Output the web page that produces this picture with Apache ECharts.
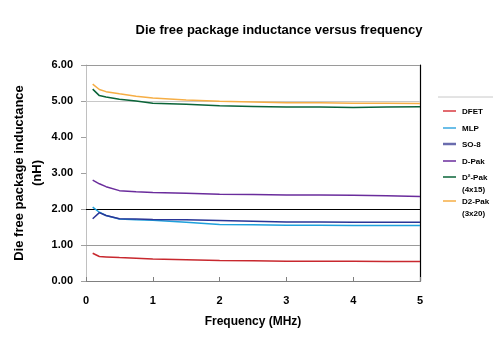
<!DOCTYPE html>
<html><head><meta charset="utf-8">
<script src="https://cdn.jsdelivr.net/npm/echarts@6/dist/echarts.min.js"></script>
<style>html,body{margin:0;padding:0;background:#fff}#c{width:500px;height:351px}</style>
</head><body><div id="c"></div>
<script>
var freq = [0.1, 0.2, 0.3, 0.5, 0.75, 1, 1.5, 2, 2.5, 3, 3.5, 4, 4.5, 5];
var dfet  = [0.77, 0.68, 0.67, 0.65, 0.63, 0.61, 0.59, 0.57, 0.56, 0.55, 0.55, 0.55, 0.54, 0.54];
var mlp   = [2.05, 1.91, 1.82, 1.72, 1.70, 1.69, 1.63, 1.57, 1.56, 1.55, 1.55, 1.54, 1.54, 1.54];
var so8   = [1.73, 1.90, 1.82, 1.73, 1.72, 1.71, 1.70, 1.68, 1.66, 1.64, 1.64, 1.63, 1.63, 1.63];
var dpak  = [2.80, 2.70, 2.62, 2.51, 2.48, 2.46, 2.44, 2.41, 2.40, 2.39, 2.39, 2.38, 2.37, 2.35];
var d2pak4x15 = [5.33, 5.15, 5.11, 5.05, 5.00, 4.94, 4.91, 4.87, 4.85, 4.83, 4.83, 4.82, 4.83, 4.84];
var d2pak3x20 = [5.47, 5.32, 5.26, 5.20, 5.13, 5.08, 5.03, 4.99, 4.97, 4.95, 4.95, 4.94, 4.94, 4.93];
var seriesNames = ['DFET', 'MLP', 'SO-8', 'D-Pak', 'D\u00b2-Pak\n(4x15)', 'D2-Pak\n(3x20)'];
var seriesData = [dfet, mlp, so8, dpak, d2pak4x15, d2pak3x20];
var seriesColors = ['#c8282e', '#1ea0dc', '#2a3596', '#6a2c9c', '#0a6438', '#f6ae45'];
var legendColors = ['#d83a40', '#3aa8e0', '#6a6cae', '#6a2c9c', '#0a6438', '#f6ae45'];
var refLines = [6, 5, 2, 1];
var refColors = ['#9a9a9a', '#c8c8c8', '#000000', '#9a9a9a'];
var yTicks = ['0.00', '1.00', '2.00', '3.00', '4.00', '5.00', '6.00'];
var xTicks = ['0', '1', '2', '3', '4', '5'];

var FONT = '"Liberation Sans Narrow", "Arial Narrow", "Liberation Sans", Arial, sans-serif';
var chart = echarts.init(document.getElementById('c'));

function pairs(arr) { return arr.map(function (v, i) { return [freq[i], v]; }); }

var series = seriesData.map(function (d, i) {
  return {
    name: seriesNames[i], type: 'line', data: pairs(d), showSymbol: false, symbol: 'none',
    lineStyle: { color: seriesColors[i], width: 1.5 }, itemStyle: { color: seriesColors[i] },
    z: 5, animation: false
  };
});
series.push({
  type: 'line', data: [], silent: true, animation: false,
  markLine: {
    symbol: 'none', silent: true, animation: false, label: { show: false },
    data: refLines.map(function (v, i) {
      return { yAxis: v, lineStyle: { color: refColors[i], width: 1, type: 'solid' } };
    })
  },
  z: 1
});

var legendGraphics = [{
  type: 'line', shape: { x1: 438, y1: 97, x2: 493, y2: 97 },
  style: { stroke: '#c8c8c8', lineWidth: 1 }
}];
var legendY = [111, 128, 144, 161, 177, 201];
seriesNames.forEach(function (n, i) {
  legendGraphics.push({
    type: 'line', shape: { x1: 443, y1: legendY[i], x2: 456, y2: legendY[i] },
    style: { stroke: legendColors[i], lineWidth: i === 2 ? 2.5 : 1.5 }
  });
  legendGraphics.push({
    type: 'text', left: 462, top: legendY[i] - 5,
    style: { text: n, font: 'bold 8px ' + FONT, fill: '#000', lineHeight: 12 }
  });
});

chart.setOption({
  animation: false,
  backgroundColor: '#fff',
  title: {
    text: 'Die free package inductance versus frequency',
    left: 274, top: 19, textAlign: 'center',
    textStyle: { fontFamily: FONT, fontWeight: 'bold', fontSize: 13, color: '#000' }
  },
  grid: { left: 86, right: 80, top: 65, bottom: 70, show: false, containLabel: false, outerBoundsMode: 'none' },
  xAxis: [{
    type: 'value', min: 0, max: 5, interval: 1,
    name: 'Frequency (MHz)', nameLocation: 'middle', nameGap: 35,
    nameTextStyle: { fontFamily: FONT, fontWeight: 'bold', fontSize: 12, color: '#000' },
    axisLine: { show: true, lineStyle: { color: '#808080', width: 1 } },
    axisTick: { show: true, inside: true, length: 4, lineStyle: { color: '#808080' } },
    axisLabel: { fontFamily: FONT, fontWeight: 'bold', fontSize: 11, color: '#000', margin: 14,
      formatter: function (v) { return xTicks[Math.round(v)]; } },
    splitLine: { show: false }
  }],
  yAxis: [{
    type: 'value', min: 0, max: 6, interval: 1,
    name: 'Die free package inductance\n(nH)', nameLocation: 'middle', nameGap: 40, nameRotate: 90,
    nameMoveOverlap: false,
    nameTextStyle: { fontFamily: FONT, fontWeight: 'bold', fontSize: 13, color: '#000', lineHeight: 18 },
    axisLine: { show: true, lineStyle: { color: '#c0c0c0', width: 1 } },
    axisTick: { show: true, length: 5, lineStyle: { color: '#a0a0a0' } },
    axisLabel: { fontFamily: FONT, fontWeight: 'bold', fontSize: 11, color: '#000', margin: 13,
      formatter: function (v) { return yTicks[Math.round(v)]; } },
    splitLine: { show: false }
  }, {
    type: 'value', min: 0, max: 6, interval: 1, position: 'right',
    axisLine: { show: true, lineStyle: { color: '#000', width: 1.2 } },
    axisTick: { show: false }, axisLabel: { show: false }, splitLine: { show: false }
  }],
  series: series,
  graphic: legendGraphics
});
</script></body></html>
